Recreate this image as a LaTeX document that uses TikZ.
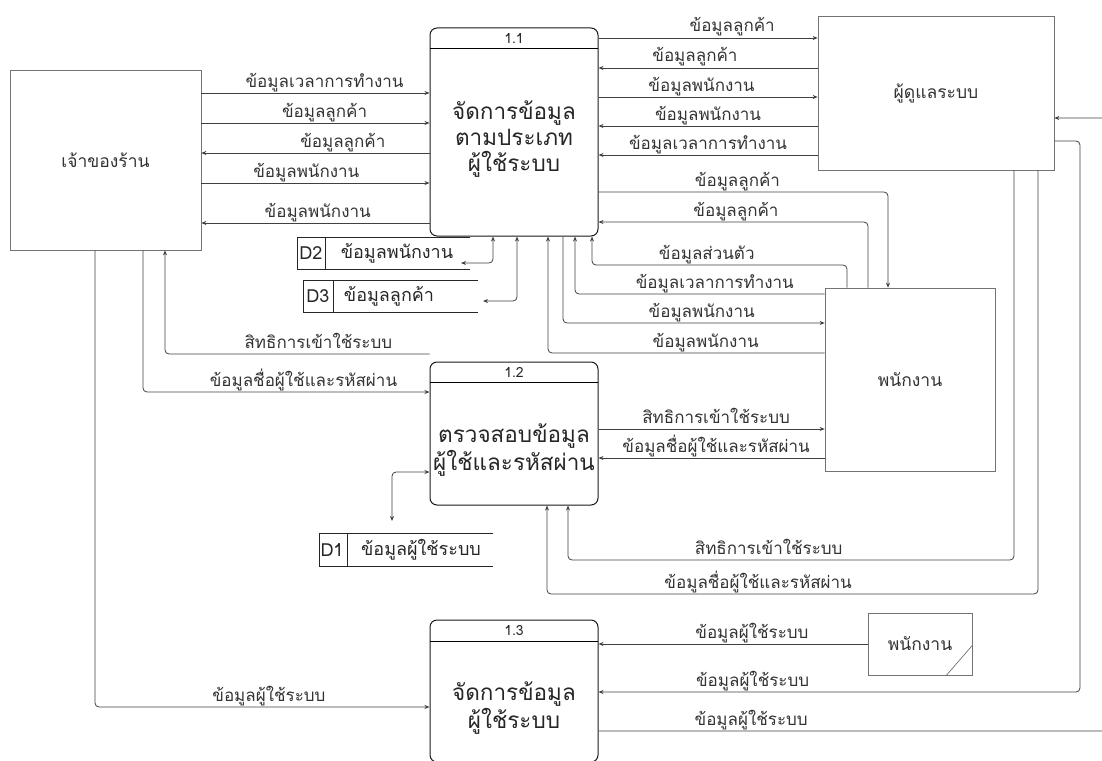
\documentclass[tikz,border=0pt]{standalone}
\usepackage{fontspec}
\newfontfamily\thaifont[Script=Thai]{Loma}
\usetikzlibrary{arrows.meta}

\tikzset{
  >={Stealth[length=5pt,width=4pt]},
  flow/.style={draw=black!75, line width=0.8pt, rounded corners=4pt, ->},
  flowboth/.style={flow, <->},
  lbl/.style={font=\thaifont\fontsize{17}{17}\selectfont, text=black!80, inner sep=0pt, anchor=base, yshift=6pt},
  entity/.style={draw=black!55, line width=0.7pt, font=\thaifont\fontsize{17.5}{17.5}\selectfont, text=black!80, inner sep=0pt},
  process/.style={draw=black!90, line width=1pt, rounded corners=7pt, inner sep=0pt},
  proctext/.style={font=\thaifont\fontsize{22.5}{26}\selectfont, align=center, text=black!85},
  procnum/.style={font=\thaifont\fontsize{14}{14}\selectfont, text=black!85},
  storetext/.style={font=\thaifont\fontsize{18}{18}\selectfont, text=black!85, inner sep=0pt},
  store/.style={draw=black!85, line width=0.8pt},
}

\begin{document}
\begin{tikzpicture}[x=1pt, y=-1pt]

    % Canvas
    \useasboundingbox (0,0) rectangle (1102,760);
    \clip (0,0) rectangle (1102,760);

    % Entities
    \node[entity, minimum width=191pt, minimum height=180pt] (own) at (105.5,160) {เจ้าของร้าน};
    \node[entity, minimum width=236pt, minimum height=154pt] (adm) at (936,93) {ผู้ดูแลระบบ};
    \node[entity, minimum width=170pt, minimum height=183pt] (stf) at (910,379.5) {พนักงาน};
    \node[entity, minimum width=104pt, minimum height=62pt] (stf2) at (920,644) {พนักงาน};
    \draw[draw=black!55, line width=0.7pt] (stf2.south east) ++(-26,0) -- ++(26,-30);

    % Processes
    \node[process, minimum width=168pt, minimum height=208pt] (p11) at (514,132) {};
    \draw[line width=1pt] (p11.north west) ++(0,21) -- ++(168,0);
    \node[procnum] (n11) at (514,38.5) {1.1};
    \node[proctext] (t11) at (514,139) {จัดการข้อมูล\\ตามประเภท\\ผู้ใช้ระบบ};

    \node[process, minimum width=168pt, minimum height=143pt] (p12) at (514,433.5) {};
    \draw[line width=1pt] (p12.north west) ++(0,21) -- ++(168,0);
    \node[procnum] (n12) at (514,372.5) {1.2};
    \node[proctext] (t12) at (514,450) {ตรวจสอบข้อมูล\\ผู้ใช้และรหัสผ่าน};

    \node[process, minimum width=168pt, minimum height=142pt] (p13) at (514,691) {};
    \draw[line width=1pt] (p13.north west) ++(0,22) -- ++(168,0);
    \node[procnum] (n13) at (514,631) {1.3};
    \node[proctext] (t13) at (514,708) {จัดการข้อมูล\\ผู้ใช้ระบบ};

    % Data stores
    \draw[store] (470,237) -- (297,237) -- (297,269) -- (470,269);
    \draw[store] (325,237) -- (325,269);
    \node[storetext] (d2id) at (311,253) {D2};
    \node[storetext] (d2) at (397,253) {ข้อมูลพนักงาน};
    \coordinate (d2in) at (461,263);

    \draw[store] (478,280) -- (303,280) -- (303,312) -- (478,312);
    \draw[store] (333,280) -- (333,312);
    \node[storetext] (d3id) at (318,296) {D3};
    \node[storetext] (d3) at (389,296) {ข้อมูลลูกค้า};
    \coordinate (d3in) at (483,301);

    \draw[store] (493,533) -- (319,533) -- (319,566) -- (493,566);
    \draw[store] (347,533) -- (347,566);
    \node[storetext] (d1id) at (332,550) {D1};
    \node[storetext] (d1) at (421,550) {ข้อมูลผู้ใช้ระบบ};
    \coordinate (d1in) at (392,521);

    % Owner <-> 1.1
    \draw[flow] (own.east |- 0,93) -- (p11.west |- 0,93) node[lbl, pos=0.54] {ข้อมูลเวลาการทำงาน};
    \draw[flow] (own.east |- 0,123) -- (p11.west |- 0,123) node[lbl, pos=0.54] {ข้อมูลลูกค้า};
    \draw[flow] (p11.west |- 0,153) -- (own.east |- 0,153) node[lbl, pos=0.38] {ข้อมูลลูกค้า};
    \draw[flow] (own.east |- 0,183) -- (p11.west |- 0,183) node[lbl, pos=0.46] {ข้อมูลพนักงาน};
    \draw[flow] (p11.west |- 0,223) -- (own.east |- 0,223) node[lbl, pos=0.49] {ข้อมูลพนักงาน};

    % 1.1 <-> admin
    \draw[flow] (p11.east |- 0,38) -- (adm.west |- 0,38) node[lbl, pos=0.61] {ข้อมูลลูกค้า};
    \draw[flow] (adm.west |- 0,68) -- (p11.east |- 0,68) node[lbl, pos=0.56] {ข้อมูลลูกค้า};
    \draw[flow] (p11.east |- 0,97) -- (adm.west |- 0,97) node[lbl, pos=0.47] {ข้อมูลพนักงาน};
    \draw[flow] (adm.west |- 0,126) -- (p11.east |- 0,126) node[lbl, pos=0.5] {ข้อมูลพนักงาน};
    \draw[flow] (adm.west |- 0,155) -- (p11.east |- 0,155) node[lbl, pos=0.5] {ข้อมูลเวลาการทำงาน};

    % 1.1 <-> staff
    \draw[flow] (p11.east |- 0,192) -- node[lbl, pos=0.48] {ข้อมูลลูกค้า} (888,192) -- (stf.north -| 888,0);
    \draw[flow] (stf.north -| 868,0) -- (868,222) -- node[lbl, pos=0.49] {ข้อมูลลูกค้า} (p11.east |- 0,222);
    \draw[flow] (stf.north -| 847,0) -- (847,265) -- node[lbl, pos=0.55] {ข้อมูลส่วนตัว} (592,265) -- (p11.south -| 592,0);
    \draw[flow] (stf.west |- 0,294) -- node[lbl, pos=0.44] {ข้อมูลเวลาการทำงาน} (575,294) -- (p11.south -| 575,0);
    \draw[flow] (p11.south -| 563,0) -- (563,323) -- node[lbl, pos=0.53] {ข้อมูลพนักงาน} (stf.west |- 0,323);
    \draw[flow] (stf.west |- 0,353) -- node[lbl, pos=0.43] {ข้อมูลพนักงาน} (548,353) -- (p11.south -| 548,0);

    % 1.1 <-> stores
    \draw[flowboth] (d2in) -- (493,263) -- (p11.south -| 493,0);
    \draw[flowboth] (d3in) -- (517,301) -- (p11.south -| 517,0);

    % 1.2 <-> staff
    \draw[flow] (p12.east |- 0,429) -- (stf.west |- 0,429) node[lbl, pos=0.52] {สิทธิการเข้าใช้ระบบ};
    \draw[flow] (stf.west |- 0,458) -- (p12.east |- 0,458) node[lbl, pos=0.48] {ข้อมูลชื่อผู้ใช้และรหัสผ่าน};

    % Owner <-> 1.2
    \draw[flow] (p12.north west |- 0,354) -- node[lbl, pos=0.42] {สิทธิการเข้าใช้ระบบ} (165,354) -- (own.south -| 165,0);
    \draw[flow] (own.south -| 143,0) -- (143,392) -- node[lbl, pos=0.56] {ข้อมูลชื่อผู้ใช้และรหัสผ่าน} (p12.west |- 0,392);
    \draw[flowboth] (d1in) -- (392,472) -- (p12.west |- 0,472);

    % Admin <-> 1.2
    \draw[flow] (adm.south -| 1014,0) -- (1014,560) -- node[lbl, pos=0.55] {สิทธิการเข้าใช้ระบบ} (568,560) -- (p12.south -| 568,0);
    \draw[flow] (adm.south -| 1038,0) -- (1038,594) -- node[lbl, pos=0.57] {ข้อมูลชื่อผู้ใช้และรหัสผ่าน} (547,594) -- (p12.south -| 547,0);

    % 1.3
    \draw[flow] (own.south -| 95,0) -- (95,707) -- node[lbl, pos=0.52] {ข้อมูลผู้ใช้ระบบ} (p13.west |- 0,707);
    \draw[flow] (stf2.west) -- (p13.east |- stf2.west) node[lbl, pos=0.43] {ข้อมูลผู้ใช้ระบบ};
    \draw[flow] (adm.east |- 0,141) -- (1080,141) -- (1080,692) -- node[lbl, pos=0.68] {ข้อมูลผู้ใช้ระบบ} (p13.east |- 0,692);
    \draw[flow] (p13.east |- 0,731) -- node[lbl, pos=0.29] {ข้อมูลผู้ใช้ระบบ} (1125,731) -- (1125,118) -- (adm.east |- 0,118);

\end{tikzpicture}
\end{document}
